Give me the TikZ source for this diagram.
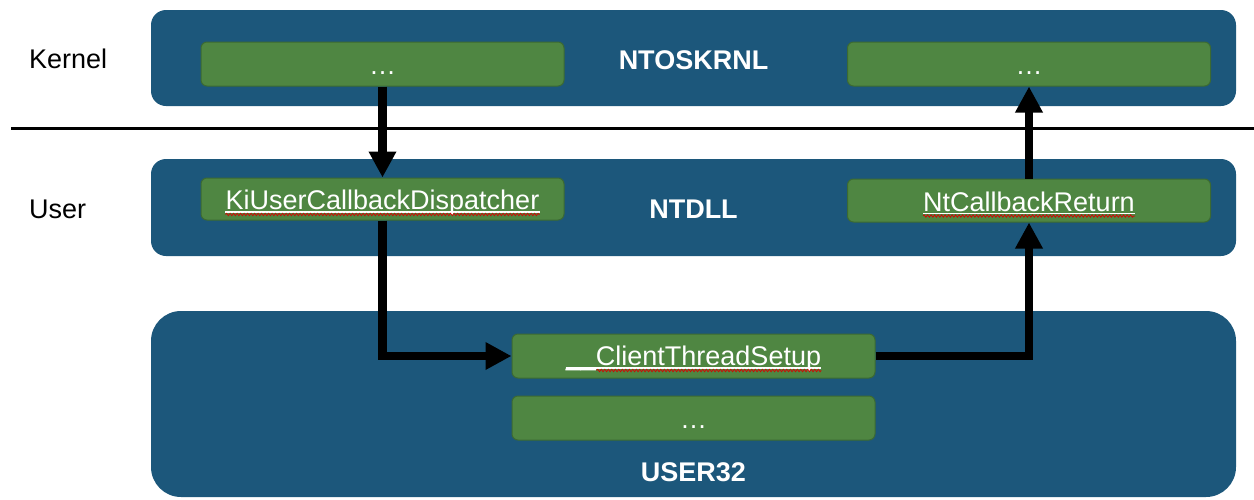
\documentclass[tikz,border=0pt]{standalone}
\usepackage{fontspec}
\setmainfont{Liberation Sans}
\usetikzlibrary{arrows.meta,decorations.pathmorphing}
\definecolor{panelblue}{RGB}{28,87,123}
\definecolor{fngreen}{RGB}{79,134,66}
\definecolor{fnedge}{RGB}{60,106,50}
\begin{document}
\begin{tikzpicture}[x=1pt,y=-1pt,
  panel/.style={fill=panelblue, rounded corners=#1},
  panel/.default=15pt,
  fnbox/.style={fill=fngreen, draw=fnedge, line width=1pt, rounded corners=6pt,
                minimum width=363pt, minimum height=44pt, inner sep=0pt},
  fntext/.style={font=\fontsize{27}{30}\selectfont, text=white, inner sep=0pt, anchor=base},
  paneltext/.style={font=\fontsize{27}{30}\selectfont\bfseries, text=white, inner sep=0pt, anchor=base},
  sidetext/.style={font=\fontsize{27}{30}\selectfont, text=black, inner sep=0pt, anchor=base west},
  flow/.style={line width=8.5pt, -{Triangle[length=26pt,width=26pt]}},
  uline/.style={white, line width=1.2pt},
  spell/.style={red!85!black, line width=0.7pt,
                decorate, decoration={snake, amplitude=1.2pt, segment length=3.5pt}},
]
\useasboundingbox (0,0) rectangle (1254,499);

% privilege boundary
\draw[line width=3pt] (11,128) -- (1254,128);
\node[sidetext] (kernlbl) at (29,68) {Kernel};
\node[sidetext] (userlbl) at (29,218) {User};

% module panels
\fill[panel] (151,10) rectangle (1236,106);
\fill[panel] (151,159) rectangle (1236,256);
\fill[panel=30pt] (151,311) rectangle (1236,497);
\node[paneltext] (ntos) at (693.5,69) {NTOSKRNL};
\node[paneltext] (ntdll) at (693.5,218) {NTDLL};
\node[paneltext] (user32) at (693.5,481) {USER32};

% functions
\node[fnbox] (kin) at (382.5,64) {};
\node[fnbox] (kout) at (1029,64) {};
\node[fnbox, minimum height=42pt] (kiu) at (382.5,199) {};
\node[fnbox, minimum height=43pt] (ncr) at (1029,200.5) {};
\node[fnbox] (cts) at (693.5,356) {};
\node[fnbox] (more) at (693.5,418) {};

\node[fntext] (kintxt) at (382.5,74) {…};
\node[fntext] (kouttxt) at (1029,74) {…};
\node[fntext] (moretxt) at (693.5,428) {…};
\node[fntext] (kiutxt) at (382.5,209.5) {KiUserCallbackDispatcher};
\node[fntext] (ncrtxt) at (1029,211) {NtCallbackReturn};
\node[fntext] (ctstxt) at (693.5,365.5) {\_\_ClientThreadSetup};

% link underlines and spelling marks
\foreach \t in {kiutxt,ncrtxt,ctstxt}
  \draw[uline] ([yshift=-2.5pt]\t.base west) -- ([yshift=-2.5pt]\t.base east);
\draw[spell] ([yshift=-5pt]kiutxt.base west) -- ([yshift=-5pt]kiutxt.base east);
\draw[spell] ([yshift=-5pt]ncrtxt.base west) -- ([yshift=-5pt]ncrtxt.base east);
\draw[spell] ([xshift=31pt,yshift=-5pt]ctstxt.base west) -- ([yshift=-5pt]ctstxt.base east);

% callback flow
\draw[flow] (kin.south) -- (kiu.north);
\draw[flow] (kiu.south) |- (cts.west);
\draw[flow] (cts.east) -| (ncr.south);
\draw[flow] (ncr.north) -- (kout.south);
\end{tikzpicture}
\end{document}
